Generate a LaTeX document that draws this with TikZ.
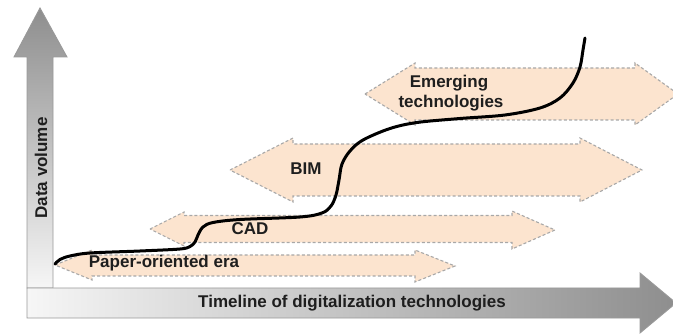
\documentclass[tikz,border=0pt]{standalone}
\usepackage{fontspec}
\setmainfont{Liberation Sans}
\definecolor{peach}{HTML}{FCE4CF}
\definecolor{dashgray}{HTML}{A8A8A8}
\definecolor{axisgray}{HTML}{8E8E8E}
\definecolor{axislight}{HTML}{F6F6F6}
\definecolor{txt}{HTML}{1E1E1E}
\tikzset{
  era/.style={fill=peach, draw=dashgray, line width=1.1pt, dash pattern=on 3pt off 2.2pt, line join=miter},
  axisbox/.style={draw=axisgray!90, line width=0.9pt},
  lbl/.style={text=txt, font=\fontsize{17}{20}\selectfont\bfseries, inner sep=0pt},
  growth/.style={line width=3pt, black, line cap=round}
}
\begin{document}
\begin{tikzpicture}[x=1pt,y=-1pt]
\useasboundingbox (0,0) rectangle (673,334);
% axes
\path[axisbox, top color=axisgray, bottom color=axislight]
  (27,288) -- (27,57) -- (14,57) -- (40,8) -- (67,57) -- (53,57) -- (53,288) -- cycle;
\path[axisbox, left color=axislight, right color=axisgray]
  (27,288) -- (640,288) -- (640,273) -- (676,303) -- (640,333) -- (640,318) -- (27,318) -- cycle;
% era arrows (double headed)
\path[era] (365,94) -- (415,63) -- (415,68) -- (635,68) -- (635,63) -- (678,94)
  -- (635,125) -- (635,120) -- (415,120) -- (415,125) -- cycle;
\path[era] (230,170) -- (293,138) -- (293,144) -- (580,144) -- (580,138) -- (642,170)
  -- (580,202) -- (580,196) -- (293,196) -- (293,202) -- cycle;
\path[era] (150,229) -- (184,212) -- (184,215.5) -- (512,215.5) -- (512,211) -- (555,230)
  -- (512,249) -- (512,242.5) -- (184,242.5) -- (184,246) -- cycle;
\path[era] (55,265) -- (92,250) -- (92,255) -- (415,255) -- (415,250) -- (455,266)
  -- (415,282) -- (415,276) -- (92,276) -- (92,280) -- cycle;
% growth curve
\draw[growth] plot[smooth, tension=0.55] coordinates {
  (55,264) (60,259.5) (70,256) (90,253) (140,251) (180,249) (190,246.5) (195,242)
  (198,235) (203,227) (213,222.5) (240,219.5) (300,217) (322,213) (331,206)
  (336,195) (339,180) (342,164) (350,151) (363,140) (390,128.5) (417,122.5)
  (460,118.5) (505,115) (540,108) (560,98) (573,83) (580,67) (583,50) (585,38)};
% labels
\node[lbl, anchor=base] (paper) at (164,268) {Paper-oriented era};
\node[lbl, anchor=base] (cad) at (250,235) {CAD};
\node[lbl, anchor=base] (bim) at (306,175) {BIM};
\node[lbl, anchor=base] (emerg1) at (449,88) {Emerging};
\node[lbl, anchor=base] (emerg2) at (451,108) {technologies};
\node[lbl, rotate=90] (yaxis) at (41,168) {Data volume};
\node[lbl] (xaxis) at (352,303) {Timeline of digitalization technologies};
\end{tikzpicture}
\end{document}
